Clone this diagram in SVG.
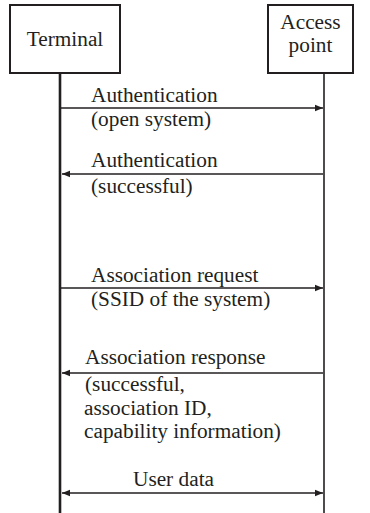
<svg xmlns="http://www.w3.org/2000/svg" width="370" height="513" viewBox="0 0 370 513">
<defs>
<style>
text{font-family:'Liberation Serif','Times New Roman',serif;font-size:21.3px;fill:#231f20}
.box{fill:#fff;stroke:#231f20;stroke-width:2}
.life{stroke:#231f20;fill:none}
.msg{stroke:#231f20;stroke-width:1.6;fill:none}
</style>
<marker id="ah" viewBox="0 0 10 10" refX="10" refY="5" markerWidth="5" markerHeight="5" orient="auto-start-reverse" markerUnits="strokeWidth">
<path d="M0,1 L10,5 L0,9 z" fill="#231f20"/>
</marker>
</defs>
<rect width="370" height="513" fill="#fff"/>
<g id="terminal">
<line class="life" x1="60" y1="73" x2="60" y2="513" stroke-width="2.6"/>
<rect class="box" x="10" y="5" width="110" height="68"/>
<text x="65" y="46" text-anchor="middle">Terminal</text>
</g>
<g id="access-point">
<line class="life" x1="324" y1="73" x2="324" y2="513" stroke-width="1.6"/>
<rect class="box" x="268" y="5" width="85" height="68"/>
<text x="310.5" y="29" text-anchor="middle">Access</text>
<text x="310.5" y="52" text-anchor="middle">point</text>
</g>
<g id="connectors">
<line class="msg" x1="61" y1="108" x2="323" y2="108" marker-end="url(#ah)"/>
<line class="msg" x1="323" y1="174" x2="62" y2="174" marker-end="url(#ah)"/>
<line class="msg" x1="61" y1="288" x2="323" y2="288" marker-end="url(#ah)"/>
<line class="msg" x1="323" y1="373" x2="62" y2="373" marker-end="url(#ah)"/>
<line class="msg" x1="62" y1="493" x2="323" y2="493" marker-start="url(#ah)" marker-end="url(#ah)"/>
</g>
<g id="labels">
<text x="91" y="102">Authentication</text>
<text x="91" y="126">(open system)</text>
<text x="91" y="167">Authentication</text>
<text x="91" y="193">(successful)</text>
<text x="91" y="282">Association request</text>
<text x="91" y="306">(SSID of the system)</text>
<text x="85" y="364">Association response</text>
<text x="85" y="391">(successful,</text>
<text x="84" y="415">association ID,</text>
<text x="84" y="438">capability information)</text>
<text x="133" y="486">User data</text>
</g>
</svg>
